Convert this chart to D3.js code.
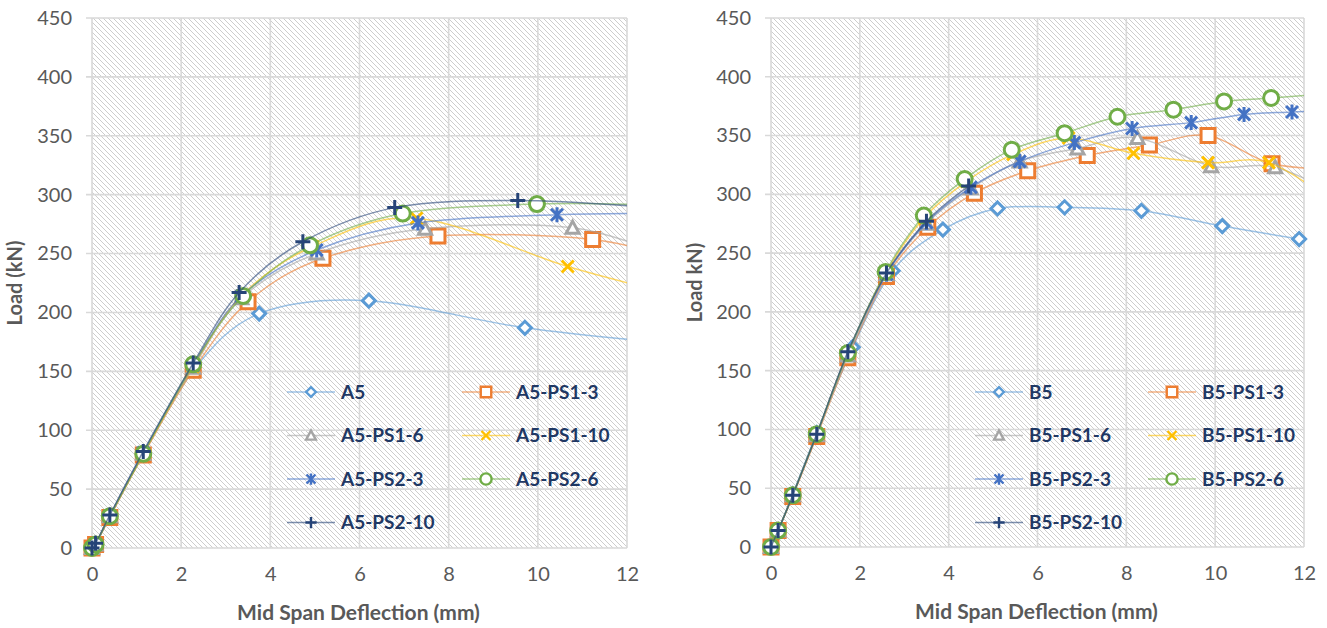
<!DOCTYPE html>
<html>
<head>
<meta charset="utf-8">
<script src="https://cdn.jsdelivr.net/npm/d3@7"></script>
<style>
  body { margin: 0; background: #fff; }
  svg text { font-family: Lato, "Open Sans", sans-serif; }
</style>
</head>
<body>
<svg id="chart" width="1327" height="628"></svg>
<script>
// ---- data (deflection mm, load kN) ----
const xTicks = [0, 2, 4, 6, 8, 10, 12]
const yTicks = [0, 50, 100, 150, 200, 250, 300, 350, 400, 450]

const namesA = ['A5', 'A5-PS1-3', 'A5-PS1-6', 'A5-PS1-10', 'A5-PS2-3', 'A5-PS2-6', 'A5-PS2-10']
const namesB = ['B5', 'B5-PS1-3', 'B5-PS1-6', 'B5-PS1-10', 'B5-PS2-3', 'B5-PS2-6', 'B5-PS2-10']

const a5     = [[0,0],[0.08,3],[0.4,27],[1.15,80],[2.27,151],[3.75,199],[6.21,210],[9.71,187],[13.2,173]]
const a5ps13 = [[0,0],[0.08,3],[0.4,26],[1.15,79],[2.27,151],[3.5,209],[5.18,246],[7.76,265],[11.23,262],[13.3,242]]
const a5ps16 = [[0,0],[0.08,3],[0.4,27],[1.15,80],[2.27,153],[3.35,212],[5.04,250],[7.47,271],[10.78,272],[13,246]]
const a5ps110= [[0,0],[0.08,3],[0.4,27],[1.15,80],[2.27,154],[3.35,214],[4.95,256],[7.28,280],[10.67,239],[13,216]]
const a5ps23 = [[0,0],[0.08,3],[0.4,27],[1.15,81],[2.27,155],[3.35,214],[5.04,253],[7.31,276],[10.43,283],[13,284]]
const a5ps26 = [[0,0],[0.08,3],[0.4,27],[1.15,80],[2.27,156],[3.39,214],[4.89,257],[6.97,284],[9.98,292],[13,291]]
const a5ps210= [[0,0],[0.08,4],[0.4,28],[1.15,82],[2.27,157],[3.3,217],[4.73,260],[6.79,289],[9.55,295],[13,288]]

const b5     = [[0,0],[0.16,14],[0.49,45],[1.03,97],[1.84,170],[2.74,235],[3.87,270],[5.1,288],[6.61,289],[8.34,286],[10.16,273],[11.89,262]]
const b5ps13 = [[0,0],[0.16,14],[0.49,43],[1.03,94],[1.73,161],[2.6,230],[3.53,272],[4.58,301],[5.78,320],[7.12,333],[8.52,342],[9.84,350],[11.28,326],[13,321]]
const b5ps16 = [[0,0],[0.16,14],[0.49,44],[1.03,95],[1.73,163],[2.6,232],[3.5,275],[4.5,305],[5.6,328],[6.9,339],[8.25,348],[9.91,324],[11.35,323],[13,295]]
const b5ps110= [[0,0],[0.16,14],[0.49,44],[1.03,96],[1.73,165],[2.6,234],[3.45,280],[4.4,311],[5.45,334],[6.7,348],[8.16,335],[9.84,327],[11.21,327],[12.8,290]]
const b5ps23 = [[0,0],[0.16,14],[0.49,44],[1.03,96],[1.73,165],[2.6,232],[3.5,276],[4.5,306],[5.6,328],[6.83,344],[8.13,356],[9.46,361],[10.65,368],[11.73,370],[13,372]]
const b5ps26 = [[0,0],[0.16,14],[0.49,44],[1.03,96],[1.73,165],[2.58,234],[3.44,282],[4.36,313],[5.42,338],[6.61,352],[7.8,366],[9.06,372],[10.2,379],[11.26,382],[13,387]]
const b5ps210= [[0,0],[0.16,14],[0.49,44],[1.03,96],[1.73,166],[2.6,233],[3.5,277],[4.45,307]]

const seriesA = [a5, a5ps13, a5ps16, a5ps110, a5ps23, a5ps26, a5ps210]
const seriesB = [b5, b5ps13, b5ps16, b5ps110, b5ps23, b5ps26, b5ps210]

// ---- styling ----
const colors = ['#5b9bd5', '#ed7d31', '#a5a5a5', '#ffc000', '#4472c4', '#70ad47', '#264478']
const shapes = ['diamond', 'square', 'triangle', 'x', 'asterisk', 'circle', 'plus']
const openShapes = ['x', 'asterisk', 'plus']

function markerPath(shape, k) {
  const p = d3.path()
  const s = 6.5 * k
  if (shape === 'diamond') { p.moveTo(0, -s); p.lineTo(s, 0); p.lineTo(0, s); p.lineTo(-s, 0); p.closePath() }
  else if (shape === 'square') { p.rect(-7 * k, -7 * k, 14 * k, 14 * k) }
  else if (shape === 'triangle') { p.moveTo(0, -s); p.lineTo(s, s * 0.85); p.lineTo(-s, s * 0.85); p.closePath() }
  else if (shape === 'circle') { p.arc(0, 0, 7.5 * k, 0, 2 * Math.PI) }
  else if (shape === 'x') { p.moveTo(-6*k, -6*k); p.lineTo(6*k, 6*k); p.moveTo(-6*k, 6*k); p.lineTo(6*k, -6*k) }
  else if (shape === 'asterisk') { p.moveTo(-6*k, -6*k); p.lineTo(6*k, 6*k); p.moveTo(-6*k, 6*k); p.lineTo(6*k, -6*k); p.moveTo(0, -7.5*k); p.lineTo(0, 7.5*k) }
  else if (shape === 'plus') { p.moveTo(-7.5*k, 0); p.lineTo(7.5*k, 0); p.moveTo(0, -7.5*k); p.lineTo(0, 7.5*k) }
  return p.toString()
}

const svg = d3.select('#chart')
svg.append('rect').attr('width', 1327).attr('height', 628).attr('fill', '#fff')

const defs = svg.append('defs')
const pat = defs.append('pattern')
  .attr('id', 'hatch').attr('patternUnits', 'userSpaceOnUse')
  .attr('width', 5).attr('height', 5)
pat.append('rect').attr('width', 5).attr('height', 5).attr('fill', '#fff')
pat.append('path')
  .attr('d', 'M-1,-1 L6,6 M-1,4 L1,6 M4,-1 L6,1')
  .attr('stroke', '#cdcdcd').attr('stroke-width', 1)

function drawChart(cfg) {
  const x = d3.scaleLinear().domain([0, 12]).range([cfg.left, cfg.right])
  const y = d3.scaleLinear().domain([0, 450]).range([cfg.bottom, cfg.top])
  const g = svg.append('g')

  g.append('rect')
    .attr('x', cfg.left).attr('y', cfg.top)
    .attr('width', cfg.right - cfg.left).attr('height', cfg.bottom - cfg.top)
    .attr('fill', 'url(#hatch)')

  // gridlines
  g.append('g').selectAll('line').data(yTicks).join('line')
    .attr('x1', cfg.left - 6).attr('x2', cfg.right)
    .attr('y1', d => y(d)).attr('y2', d => y(d))
    .attr('stroke', '#d9d9d9').attr('stroke-width', 1.6)
  g.append('g').selectAll('line').data(xTicks).join('line')
    .attr('x1', d => x(d)).attr('x2', d => x(d))
    .attr('y1', cfg.top).attr('y2', cfg.bottom)
    .attr('stroke', '#d9d9d9').attr('stroke-width', 1.6)

  // axes (labels only)
  const yAxis = g.append('g')
    .attr('transform', `translate(${cfg.left - 20},0)`)
    .call(d3.axisLeft(y).tickValues(yTicks).tickSize(0).tickPadding(0))
  const xAxis = g.append('g')
    .attr('transform', `translate(0,${cfg.bottom + 19})`)
    .call(d3.axisBottom(x).tickValues(xTicks).tickSize(0).tickPadding(0))
  for (const a of [yAxis, xAxis]) {
    a.select('.domain').remove()
    a.selectAll('text').attr('fill', '#595959').style('font-size', '20px').style('font-family', 'Lato, sans-serif')
  }
  xAxis.selectAll('text').attr('dy', '0.71em')

  g.append('text')
    .attr('x', (cfg.left + cfg.right) / 2 - 1).attr('y', cfg.bottom + 72)
    .attr('text-anchor', 'middle').attr('fill', '#595959')
    .style('font-size', '21px').style('font-weight', 'bold')
    .text('Mid Span Deflection (mm)')
  g.append('text')
    .attr('transform', `translate(${cfg.yTitleX},${(cfg.top + cfg.bottom) / 2}) rotate(-90)`)
    .attr('text-anchor', 'middle').attr('fill', '#595959')
    .style('font-size', '20px').style('font-weight', 'bold')
    .text(cfg.yTitle)

  // series
  const clipId = 'clip' + cfg.id
  defs.append('clipPath').attr('id', clipId).append('rect')
    .attr('x', cfg.left - 10).attr('y', cfg.top)
    .attr('width', cfg.right - cfg.left + 10).attr('height', cfg.bottom - cfg.top + 10)

  const line = d3.line().x(d => x(d[0])).y(d => y(d[1])).curve(d3.curveCardinal.tension(0))

  cfg.series.forEach((data, i) => {
    const sg = g.append('g')
    sg.append('path')
      .attr('clip-path', `url(#${clipId})`)
      .attr('d', line(data))
      .attr('fill', 'none').attr('stroke', colors[i])
      .attr('stroke-width', 1.5).attr('stroke-opacity', 0.6)
    sg.selectAll('path.m').data(data.filter(d => d[0] <= 12)).join('path')
      .attr('class', 'm')
      .attr('transform', d => `translate(${x(d[0])},${y(d[1])})`)
      .attr('d', markerPath(shapes[i], 1))
      .attr('fill', openShapes.includes(shapes[i]) ? 'none' : '#fff')
      .attr('stroke', colors[i]).attr('stroke-width', 3)
  })

  // legend
  const lg = g.append('g')
  cfg.names.forEach((name, i) => {
    const lx = cfg.legX[i % 2]
    const ly = cfg.legY0 + Math.floor(i / 2) * 43.5
    lg.append('line')
      .attr('x1', lx).attr('x2', lx + 48).attr('y1', ly).attr('y2', ly)
      .attr('stroke', colors[i]).attr('stroke-width', 1.5).attr('stroke-opacity', 0.6)
    lg.append('path')
      .attr('transform', `translate(${lx + 24},${ly})`)
      .attr('d', markerPath(shapes[i], 0.75))
      .attr('fill', openShapes.includes(shapes[i]) ? 'none' : '#fff')
      .attr('stroke', colors[i]).attr('stroke-width', 2.4)
    lg.append('text')
      .attr('x', lx + 54).attr('y', ly).attr('dy', '0.35em')
      .attr('fill', '#1f3864').style('font-size', '19px').style('font-weight', 'bold')
      .text(name)
  })
}

drawChart({ id: 'A', left: 92, right: 627, top: 18, bottom: 548, yTitle: 'Load (kN)', yTitleX: 22,
  series: seriesA, names: namesA, legX: [287, 462], legY0: 392 })
drawChart({ id: 'B', left: 771, right: 1304, top: 18, bottom: 547, yTitle: 'Load  kN)', yTitleX: 702,
  series: seriesB, names: namesB, legX: [975, 1148], legY0: 392 })
</script>
</body>
</html>
